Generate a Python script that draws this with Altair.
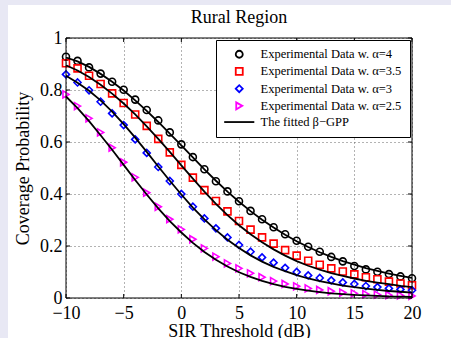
import altair as alt
import pandas as pd

# ---------------- data ----------------
sir_db = list(range(-10, 21))

exp_a4 = [0.928, 0.912, 0.887, 0.863, 0.832, 0.801, 0.763, 0.723, 0.683, 0.637, 0.591,
          0.542, 0.495, 0.449, 0.410, 0.372, 0.335, 0.303, 0.272, 0.245, 0.220,
          0.197, 0.178, 0.158, 0.141, 0.123, 0.110, 0.101, 0.092, 0.083, 0.076]
exp_a35 = [0.903, 0.883, 0.855, 0.823, 0.787, 0.750, 0.706, 0.662, 0.612, 0.560, 0.512,
           0.463, 0.415, 0.373, 0.333, 0.296, 0.263, 0.233, 0.209, 0.184, 0.163,
           0.143, 0.128, 0.114, 0.102, 0.091, 0.080, 0.072, 0.063, 0.056, 0.049]
exp_a3 = [0.860, 0.829, 0.799, 0.755, 0.710, 0.665, 0.610, 0.558, 0.504, 0.450, 0.400,
          0.351, 0.306, 0.268, 0.233, 0.204, 0.178, 0.156, 0.136, 0.116, 0.100,
          0.087, 0.077, 0.068, 0.060, 0.054, 0.046, 0.042, 0.037, 0.033, 0.030]
exp_a25 = [0.783, 0.738, 0.691, 0.637, 0.578, 0.522, 0.464, 0.405, 0.351, 0.303, 0.264,
           0.226, 0.191, 0.159, 0.133, 0.114, 0.095, 0.080, 0.065, 0.054, 0.045,
           0.037, 0.031, 0.026, 0.021, 0.018, 0.015, 0.013, 0.011, 0.010, 0.008]

fit_a4 = [0.925, 0.910, 0.889, 0.862, 0.832, 0.798, 0.760, 0.720, 0.677, 0.632, 0.587,
          0.541, 0.495, 0.451, 0.409, 0.370, 0.334, 0.301, 0.271, 0.243, 0.218,
          0.196, 0.176, 0.158, 0.142, 0.128, 0.115, 0.104, 0.094, 0.085, 0.077]
fit_a35 = [0.895, 0.875, 0.850, 0.820, 0.786, 0.748, 0.706, 0.660, 0.612, 0.562, 0.510,
           0.459, 0.409, 0.362, 0.319, 0.280, 0.245, 0.214, 0.187, 0.163, 0.142,
           0.124, 0.109, 0.096, 0.085, 0.075, 0.066, 0.059, 0.053, 0.047, 0.042]
fit_a3 = [0.855, 0.828, 0.797, 0.760, 0.717, 0.669, 0.617, 0.562, 0.506, 0.451, 0.398,
          0.348, 0.302, 0.261, 0.224, 0.192, 0.164, 0.140, 0.120, 0.103, 0.088,
          0.075, 0.065, 0.056, 0.048, 0.042, 0.036, 0.031, 0.027, 0.024, 0.021]
fit_a25 = [0.775, 0.730, 0.680, 0.626, 0.570, 0.512, 0.454, 0.398, 0.345, 0.296, 0.252,
           0.212, 0.177, 0.147, 0.121, 0.099, 0.081, 0.066, 0.053, 0.043, 0.035,
           0.028, 0.023, 0.018, 0.015, 0.012, 0.010, 0.008, 0.006, 0.005, 0.004]

labels = ["Experimental Data w. \u03b1=4", "Experimental Data w. \u03b1=3.5",
          "Experimental Data w. \u03b1=3", "Experimental Data w. \u03b1=2.5",
          "The fitted \u03b2\u2212GPP"]
colors = ["#000000", "#ff0000", "#0000ff", "#ff00ff", "#000000"]
shapes = ["circle", "square", "diamond", "triangle-right", "M-4.3,0H4.3"]

x_ticks = [-10, -5, 0, 5, 10, 15, 20]
y_ticks = [0, 0.2, 0.4, 0.6, 0.8, 1]
title_text = "Rural Region"

# ---------------- tables ----------------
exp_series = [exp_a4, exp_a35, exp_a3, exp_a25]
fit_series = [fit_a4, fit_a35, fit_a3, fit_a25]
groups = ["4", "3.5", "3", "2.5"]

pts_rows, line_rows = [], []
for lab, g, ev, fv in zip(labels[:4], groups, exp_series, fit_series):
    for xv, e, f in zip(sir_db, ev, fv):
        pts_rows.append({"x": xv, "y": e, "legend": lab})
        line_rows.append({"x": xv, "y": f, "legend": labels[4], "grp": g})
df_pts = pd.DataFrame(pts_rows)
df_lines = pd.DataFrame(line_rows)

W, H = 346, 260
FONT = "Liberation Serif"

xs = alt.Scale(domain=[-10, 20], nice=False, zero=False)
ys = alt.Scale(domain=[0, 1], nice=False, zero=False)
color_scale = alt.Scale(domain=labels, range=colors)
shape_scale = alt.Scale(domain=labels, range=shapes)

x_axis = alt.Axis(values=x_ticks, labelFlush=False, ticks=False, domain=False,
                  grid=True, gridDash=[1, 3], gridColor="#555555", gridWidth=0.9,
                  labelFont=FONT, labelFontSize=18, labelColor="black",
                  labelPadding=20, labelBaseline="alphabetic",
                  title="SIR Threshold (dB)", titleFont=FONT, titleFontSize=18,
                  titleFontWeight="normal", titleColor="black",
                  titleBaseline="alphabetic", titleY=38)
y_axis = alt.Axis(values=y_ticks, format="~g", labelFlush=False, ticks=False,
                  domain=False, grid=True, gridDash=[1, 3], gridColor="#555555",
                  gridWidth=0.9, labelFont=FONT, labelFontSize=18, labelColor="black",
                  labelPadding=4, title="Coverage Probability", titleFont=FONT,
                  titleFontSize=18, titleFontWeight="normal", titleColor="black",
                  titleBaseline="alphabetic", titleAngle=270, titleX=-37.5, titleY=H / 2)

legend = alt.Legend(title=None, orient="none", legendX=150, legendY=2, padding=8,
                    rowPadding=2.2, symbolSize=49, symbolStrokeWidth=1.8,
                    symbolOffset=9, labelOffset=15, labelFont=FONT, labelFontSize=12.5,
                    labelColor="black", strokeColor="black", fillColor="white",
                    cornerRadius=0, labelLimit=0, symbolFillColor="transparent")

one = pd.DataFrame({"a": [0]})
strip_left = alt.Chart(one).mark_rect(color="#e8e8f4").encode(
    x=alt.value(-66), x2=alt.value(-58), y=alt.value(-38), y2=alt.value(H + 40))
strip_top = alt.Chart(one).mark_rect(color="#e8e8f4").encode(
    x=alt.value(-66), x2=alt.value(W + 39), y=alt.value(-38), y2=alt.value(-33))
title_mark = alt.Chart(one).mark_text(
    text=title_text, font=FONT, fontSize=18, color="black", align="center",
    baseline="alphabetic").encode(x=alt.value(W / 2), y=alt.value(-15))
frame = alt.Chart(one).mark_rect(fill=None, stroke="black", strokeWidth=1).encode(
    x=alt.value(0), x2=alt.value(W), y=alt.value(0), y2=alt.value(H))

pts = alt.Chart(df_pts).mark_point(filled=False, size=49, strokeWidth=1.6, opacity=1).encode(
    x=alt.X("x:Q", scale=xs, axis=x_axis),
    y=alt.Y("y:Q", scale=ys, axis=y_axis),
    color=alt.Color("legend:N", scale=color_scale, legend=legend),
    shape=alt.Shape("legend:N", scale=shape_scale, legend=legend),
)

lines = alt.Chart(df_lines).mark_line(strokeWidth=1.8).encode(
    x=alt.X("x:Q", scale=xs, axis=x_axis),
    y=alt.Y("y:Q", scale=ys, axis=y_axis),
    color=alt.Color("legend:N", scale=color_scale, legend=legend),
    detail="grp:N",
)

xt = pd.DataFrame({"x": x_ticks})
yt = pd.DataFrame({"y": y_ticks})
tick_bottom = alt.Chart(xt).mark_rule(color="black", strokeWidth=1).encode(
    x=alt.X("x:Q", scale=xs, axis=x_axis), y=alt.value(H), y2=alt.value(H - 4))
tick_top = alt.Chart(xt).mark_rule(color="black", strokeWidth=1).encode(
    x=alt.X("x:Q", scale=xs, axis=x_axis), y=alt.value(0), y2=alt.value(4))
tick_left = alt.Chart(yt).mark_rule(color="black", strokeWidth=1).encode(
    y=alt.Y("y:Q", scale=ys, axis=y_axis), x=alt.value(0), x2=alt.value(4))
tick_right = alt.Chart(yt).mark_rule(color="black", strokeWidth=1).encode(
    y=alt.Y("y:Q", scale=ys, axis=y_axis), x=alt.value(W), x2=alt.value(W - 4))

chart = alt.layer(
    strip_left, strip_top, title_mark, pts, lines,
    tick_bottom, tick_top, tick_left, tick_right, frame
).properties(
    width=W, height=H,
    padding={"left": 66, "top": 38, "right": 39, "bottom": 40},
    autosize=alt.AutoSizeParams(type="none"),
).configure(background="white").configure_view(stroke=None)

chart.save("out.html", embed_options={"renderer": "svg", "actions": False})
